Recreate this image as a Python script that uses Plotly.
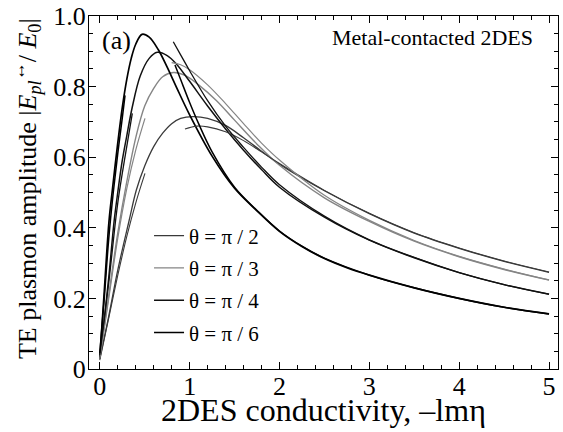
import plotly.graph_objects as go

# ---- data ----
# theta = pi/2  (lowest peak)
d_x = [0.0, 0.1, 0.2, 0.326, 0.407, 0.5, 0.6, 0.7, 0.8, 0.9, 1.04, 1.2, 1.4, 1.6, 1.8, 2.0, 2.5, 3.0, 3.5, 4.0, 4.5, 5.0]
d_y = [0.03, 0.15, 0.28, 0.42, 0.507, 0.575, 0.63, 0.668, 0.695, 0.71, 0.715, 0.71, 0.69, 0.655, 0.617, 0.58, 0.505, 0.44, 0.385, 0.342, 0.305, 0.274]
d_hi_x = [0.948, 1.08, 1.2, 1.4, 1.6, 1.8, 2.0, 2.5, 3.0, 3.5, 4.0, 4.5, 5.0]
d_hi_y = [0.68, 0.688, 0.686, 0.672, 0.647, 0.615, 0.582, 0.506, 0.441, 0.386, 0.343, 0.306, 0.275]
d_lo_x = [0.0, 0.1, 0.2, 0.3, 0.4, 0.503]
d_lo_y = [0.025, 0.145, 0.265, 0.375, 0.47, 0.554]

# theta = pi/3
c_x = [0.0, 0.1, 0.2, 0.3, 0.4, 0.5, 0.6, 0.7, 0.818, 0.95, 1.1, 1.3, 1.5, 1.75, 2.0, 2.5, 3.0, 3.5, 4.0, 4.5, 5.0]
c_y = [0.03, 0.21, 0.385, 0.53, 0.655, 0.745, 0.795, 0.828, 0.84, 0.832, 0.805, 0.76, 0.705, 0.637, 0.577, 0.485, 0.418, 0.362, 0.318, 0.282, 0.252]
c_hi_x = [0.8, 0.9, 1.0, 1.2, 1.4, 1.6, 1.8, 2.0, 2.5, 3.0, 3.5, 4.0, 4.5, 5.0]
c_hi_y = [0.868, 0.862, 0.848, 0.805, 0.752, 0.695, 0.64, 0.592, 0.492, 0.421, 0.364, 0.319, 0.283, 0.252]
c_lo_x = [0.0, 0.1, 0.2, 0.3, 0.4, 0.503]
c_lo_y = [0.03, 0.2, 0.37, 0.51, 0.62, 0.71]

# theta = pi/4
b_x = [0.0, 0.05, 0.1, 0.16, 0.2, 0.25, 0.3, 0.36, 0.45, 0.55, 0.64, 0.75, 0.85, 1.0, 1.2, 1.4, 1.6, 1.8, 2.0, 2.5, 3.0, 3.5, 4.0, 4.5, 5.0]
b_y = [0.035, 0.14, 0.26, 0.42, 0.5, 0.59, 0.66, 0.74, 0.83, 0.88, 0.897, 0.888, 0.865, 0.815, 0.745, 0.68, 0.62, 0.565, 0.515, 0.43, 0.365, 0.315, 0.273, 0.239, 0.212]
b_hi_x = [0.818, 0.9, 1.0, 1.2, 1.4, 1.6, 1.8, 2.0, 2.5, 3.0, 3.5, 4.0, 4.5, 5.0]
b_hi_y = [0.927, 0.89, 0.845, 0.76, 0.688, 0.628, 0.572, 0.522, 0.433, 0.366, 0.316, 0.273, 0.239, 0.212]
b_lo_x = [0.0, 0.1, 0.2, 0.3, 0.362]
b_lo_y = [0.04, 0.245, 0.47, 0.63, 0.724]

# theta = pi/6  (highest peak)
a_x = [0.0, 0.05, 0.103, 0.14, 0.2, 0.25, 0.3, 0.35, 0.4, 0.47, 0.55, 0.65, 0.75, 0.85, 1.0, 1.25, 1.5, 1.75, 2.0, 2.25, 2.5, 2.75, 3.0, 3.5, 4.0, 4.5, 5.0]
a_y = [0.03, 0.22, 0.42, 0.507, 0.64, 0.74, 0.82, 0.88, 0.92, 0.948, 0.94, 0.905, 0.855, 0.8, 0.72, 0.603, 0.512, 0.448, 0.39, 0.347, 0.313, 0.287, 0.266, 0.23, 0.2, 0.175, 0.156]
a_hi_x = [0.837, 0.9, 1.0, 1.1, 1.25, 1.5, 1.75, 2.0, 2.25, 2.5, 3.0, 3.5, 4.0, 4.5, 5.0]
a_hi_y = [0.861, 0.82, 0.755, 0.695, 0.615, 0.515, 0.449, 0.391, 0.348, 0.314, 0.266, 0.23, 0.2, 0.175, 0.156]
a_lo_x = [0.0, 0.05, 0.1, 0.15, 0.2, 0.25, 0.281]
a_lo_y = [0.045, 0.2, 0.37, 0.5, 0.61, 0.71, 0.775]

names = ["θ = π / 2", "θ = π / 3", "θ = π / 4", "θ = π / 6"]
colors = ["#3a3a3a", "#858585", "#111111", "#000000"]
widths = [1.3, 1.4, 1.5, 1.7]

x_ticks = [0, 1, 2, 3, 4, 5]
y_ticks = [0, 0.2, 0.4, 0.6, 0.8, 1.0]
y_ticktext = ["0", "0.2", "0.4", "0.6", "0.8", "1.0"]

main = [(d_x, d_y), (c_x, c_y), (b_x, b_y), (a_x, a_y)]
highs = [(d_hi_x, d_hi_y), (c_hi_x, c_hi_y), (b_hi_x, b_hi_y), (a_hi_x, a_hi_y)]
lows = [(d_lo_x, d_lo_y), (c_lo_x, c_lo_y), (b_lo_x, b_lo_y), (a_lo_x, a_lo_y)]

fig = go.Figure()
for i in range(4):
    fig.add_trace(go.Scatter(x=main[i][0], y=main[i][1], mode="lines", name=names[i],
                             legendgroup=str(i),
                             line=dict(color=colors[i], width=widths[i], shape="spline", smoothing=1.0)))
for i in range(4):
    for (xx, yy) in (highs[i], lows[i]):
        fig.add_trace(go.Scatter(x=xx, y=yy, mode="lines", showlegend=False,
                                 line=dict(color=colors[i], width=widths[i] - 0.2, shape="spline", smoothing=1.0)))

axis_common = dict(showline=True, linecolor="black", linewidth=1, mirror="allticks",
                   ticks="inside", ticklen=7, tickwidth=1, tickcolor="black",
                   showgrid=False, zeroline=False, automargin=False,
                   tickfont=dict(size=26, color="black", family="Liberation Serif"))

fig.update_layout(
    width=563, height=432,
    margin=dict(l=89, r=5, t=16, b=63),
    paper_bgcolor="white", plot_bgcolor="white",
    font=dict(family="Liberation Serif", color="black"),
    xaxis=dict(range=[-0.12, 5.1], tickvals=x_ticks, ticklabelstandoff=-6,
               minor=dict(dtick=0.2, ticks="inside", ticklen=4, tickcolor="black"),
               **axis_common),
    yaxis=dict(range=[0, 1], tickvals=y_ticks, ticktext=y_ticktext, ticklabelstandoff=-3,
               minor=dict(dtick=0.05, ticks="inside", ticklen=4, tickcolor="black"),
               **axis_common),
    legend=dict(x=0.128, y=0.435, xanchor="left", yanchor="top", bgcolor="rgba(0,0,0,0)",
                font=dict(size=21, family="Liberation Serif"), traceorder="grouped",
                tracegroupgap=2, itemwidth=30),
    showlegend=True,
    annotations=[
        dict(text="(a)", x=0.023, y=0.932, xref="paper", yref="paper", xanchor="left", yanchor="middle",
             showarrow=False, font=dict(size=26)),
        dict(text="Metal-contacted 2DES", x=0.95, y=0.94, xref="paper", yref="paper", xanchor="right",
             yanchor="middle", showarrow=False, font=dict(size=22)),
        dict(text="2DES conductivity, –lmη", x=0.5, y=-0.116, xref="paper", yref="paper",
             xanchor="center", yanchor="middle", showarrow=False, font=dict(size=32)),
        dict(text="TE plasmon amplitude |<i>E</i><sub><i>pl</i></sub><sup>↔</sup>/ <i>E</i><sub>0</sub>|",
             x=-0.132, y=0.51, xref="paper", yref="paper", xanchor="center", yanchor="middle",
             textangle=-90, showarrow=False, font=dict(size=26)),
    ],
)

fig.write_html("out.html", config={"displayModeBar": False},
               post_script="document.body.style.margin='0';document.body.style.overflow='hidden';")
